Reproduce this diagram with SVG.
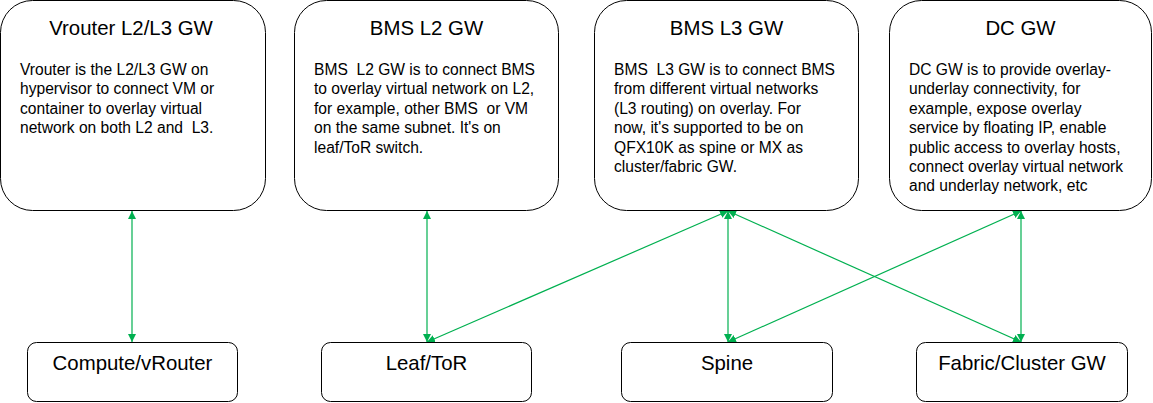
<svg xmlns="http://www.w3.org/2000/svg" width="1153" height="403" viewBox="0 0 1153 403">
<defs>
<marker id="ah" viewBox="0 0 10 10" refX="10" refY="5" markerWidth="8" markerHeight="8" markerUnits="userSpaceOnUse" orient="auto-start-reverse">
<path d="M0,0 L10,5 L0,10 z" fill="#00b050"/>
</marker>
<style>
.box{fill:#fff;stroke:#000;stroke-width:1}
.title{font-family:"Liberation Sans",Arial,sans-serif;font-size:20.4px;fill:#000;text-anchor:middle}
.body{font-family:"Liberation Sans",Arial,sans-serif;font-size:15.6px;fill:#000;white-space:pre}
.con{stroke:#00b050;stroke-width:1.2;fill:none;marker-start:url(#ah);marker-end:url(#ah)}
</style>
</defs>
<rect width="1153" height="403" fill="#fff"/>
<g id="connectors">
<line class="con" x1="132" y1="211" x2="132" y2="342"/>
<line class="con" x1="427" y1="211" x2="427" y2="342"/>
<line class="con" x1="728" y1="211" x2="427" y2="342"/>
<line class="con" x1="728" y1="211" x2="728" y2="342"/>
<line class="con" x1="728" y1="211" x2="1021" y2="342"/>
<line class="con" x1="1021" y1="211" x2="728" y2="342"/>
<line class="con" x1="1021" y1="211" x2="1021" y2="342"/>
</g>
<g id="vrouter-gw">
<rect class="box" x="0.5" y="0.5" width="265" height="210" rx="32" ry="32"/>
<text class="title" x="131" y="35">Vrouter L2/L3 GW</text>
<text class="body" xml:space="preserve"><tspan x="20" y="75">Vrouter is the L2/L3 GW on</tspan><tspan x="20" y="94.4">hypervisor to connect VM or</tspan><tspan x="20" y="113.8">container to overlay virtual</tspan><tspan x="20" y="133.2">network on both L2 and  L3.</tspan></text>
</g>
<g id="bms-l2-gw">
<rect class="box" x="294.5" y="0.5" width="264" height="210" rx="32" ry="32"/>
<text class="title" x="426.5" y="35">BMS L2 GW</text>
<text class="body" xml:space="preserve"><tspan x="314" y="75">BMS  L2 GW is to connect BMS</tspan><tspan x="314" y="94.4">to overlay virtual network on L2,</tspan><tspan x="314" y="113.8">for example, other BMS  or VM</tspan><tspan x="314" y="133.2">on the same subnet. It's on</tspan><tspan x="314" y="152.6">leaf/ToR switch.</tspan></text>
</g>
<g id="bms-l3-gw">
<rect class="box" x="594.5" y="0.5" width="264" height="210" rx="32" ry="32"/>
<text class="title" x="726.5" y="35">BMS L3 GW</text>
<text class="body" xml:space="preserve"><tspan x="614" y="75">BMS  L3 GW is to connect BMS</tspan><tspan x="614" y="94.4">from different virtual networks</tspan><tspan x="614" y="113.8">(L3 routing) on overlay. For</tspan><tspan x="614" y="133.2">now, it's supported to be on</tspan><tspan x="614" y="152.6">QFX10K as spine or MX as</tspan><tspan x="614" y="172">cluster/fabric GW.</tspan></text>
</g>
<g id="dc-gw">
<rect class="box" x="889.5" y="0.5" width="262" height="210" rx="32" ry="32"/>
<text class="title" x="1020.5" y="35">DC GW</text>
<text class="body" xml:space="preserve"><tspan x="909" y="75">DC GW is to provide overlay-</tspan><tspan x="909" y="94.4">underlay connectivity, for</tspan><tspan x="909" y="113.8">example, expose overlay</tspan><tspan x="909" y="133.2">service by floating IP, enable</tspan><tspan x="909" y="152.6">public access to overlay hosts,</tspan><tspan x="909" y="172">connect overlay virtual network</tspan><tspan x="909" y="191.4">and underlay network, etc</tspan></text>
</g>
<g id="compute-vrouter">
<rect class="box" x="27.5" y="342.5" width="210" height="59" rx="9" ry="9"/>
<text class="title" x="132.5" y="370">Compute/vRouter</text>
</g>
<g id="leaf-tor">
<rect class="box" x="321.5" y="342.5" width="210" height="59" rx="9" ry="9"/>
<text class="title" x="426.5" y="370">Leaf/ToR</text>
</g>
<g id="spine">
<rect class="box" x="621.5" y="342.5" width="211" height="59" rx="9" ry="9"/>
<text class="title" x="727" y="370">Spine</text>
</g>
<g id="fabric-cluster-gw">
<rect class="box" x="916.5" y="342.5" width="211" height="59" rx="9" ry="9"/>
<text class="title" x="1022" y="370">Fabric/Cluster GW</text>
</g>
</svg>
